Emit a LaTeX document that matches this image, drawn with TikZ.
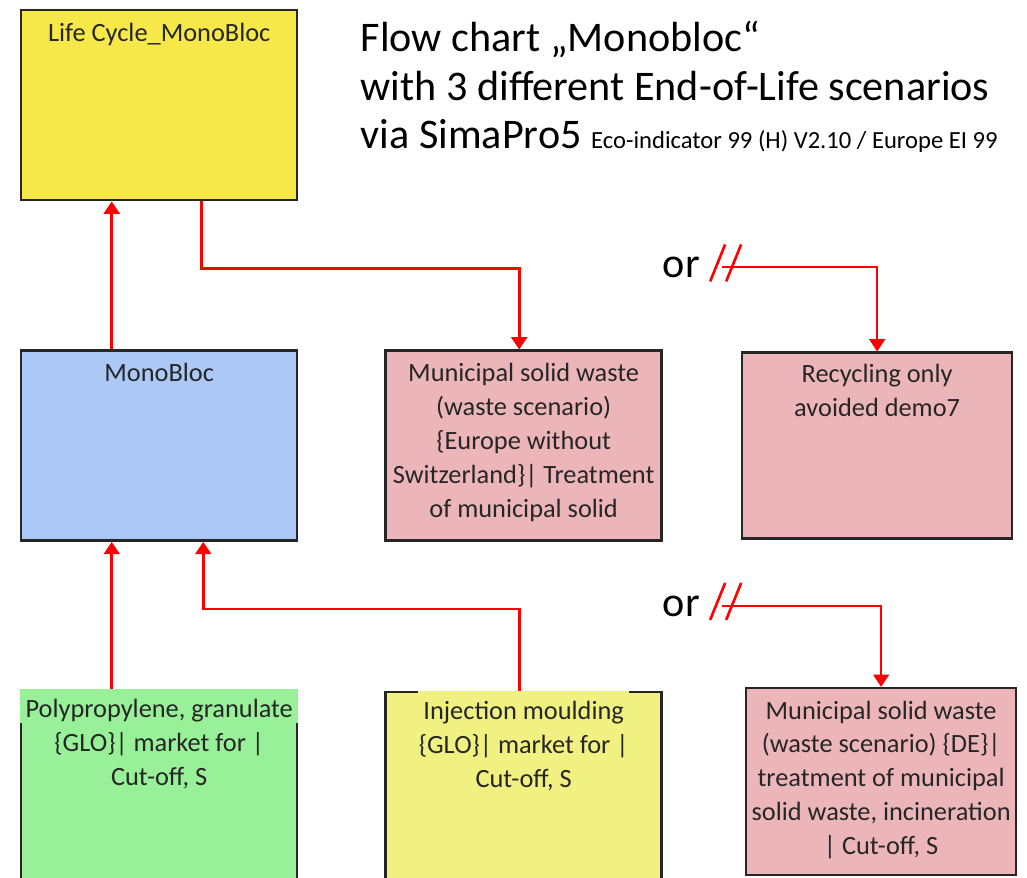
\documentclass[tikz,border=0pt]{standalone}
\usepackage{fontspec}
\setmainfont{Carlito}
\usepackage{tikz}
\usetikzlibrary{arrows.meta, positioning}
\usepackage{xcolor}

\definecolor{lcyellow}{RGB}{246,232,72}
\definecolor{monoblue}{RGB}{171,200,246}
\definecolor{wastepink}{RGB}{236,181,186}
\definecolor{ppgreen}{RGB}{152,240,152}
\definecolor{imyellow}{RGB}{241,241,130}

% highlight behind the first line of a box label
\newcommand{\linefill}[2]{{\setlength{\fboxsep}{0pt}\colorbox{#1}{\hspace{3pt}\vrule height 16pt depth 3.3pt width 0pt #2\hspace{3pt}}}}

\begin{document}
\begin{tikzpicture}[
    box/.style={rectangle, draw=black!85, line width=1.4pt, minimum width=5.52cm, minimum height=3.8cm, inner sep=0pt},
    boxtext/.style={inner sep=0pt, align=center, font=\fontsize{15}{19.3}\selectfont, text=black!85},
    heading/.style={inner sep=0pt, align=left, font=\fontsize{24}{27.5}\selectfont},
    ortext/.style={inner sep=0pt, font=\fontsize{24}{28}\selectfont},
    flow/.style={-{Triangle[width=9pt, length=7pt]}, red, line width=1.6pt},
    altflow/.style={-{Triangle[width=9pt, length=7pt]}, red, line width=1.1pt},
    cut/.style={red, line width=1.5pt},
    node distance=1.5cm
]
    \useasboundingbox (0,0) rectangle (20.54,-17.56);
    \clip (0,0) rectangle (20.54,-17.56);

    % Components
    \node[box, fill=lcyellow, anchor=north west] (lc) at (0.40,-0.18) {};
    \node[box, fill=monoblue, below=2.96cm of lc] (mono) {};
    \node[box, fill=wastepink, right=1.72cm of mono] (munic) {};
    \node[box, fill=wastepink, minimum width=5.4cm, minimum height=3.72cm, right=1.56cm of munic] (recyc) {};
    \node[box, fill=ppgreen, minimum height=4cm, below=2.94cm of mono] (poly) {};
    \node[box, fill=imyellow, minimum height=4cm, below=2.98cm of munic] (inj) {};
    \node[box, fill=wastepink, minimum width=5.4cm, minimum height=3.74cm, below=2.94cm of recyc, xshift=0.08cm] (de) {};

    % Labels
    \node[boxtext, below=0.27cm of lc.north] (lctxt) {Life Cycle\_MonoBloc};
    \node[boxtext, below=0.27cm of mono.north] (monotxt) {MonoBloc};
    \node[boxtext, below=0.27cm of munic.north] (munictxt) {Municipal solid waste\\(waste scenario)\\\{Europe without\\Switzerland\}| Treatment\\of municipal solid};
    \node[boxtext, below=0.24cm of recyc.north] (recyctxt) {Recycling only\\avoided demo7};
    \node[boxtext, below=0cm of poly.north] (polytxt) {\linefill{ppgreen}{Polypropylene, granulate}\\\{GLO\}| market for |\\Cut-off, S};
    \node[boxtext, below=0cm of inj.north] (injtxt) {\linefill{imyellow}{Injection moulding}\\\{GLO\}| market for |\\Cut-off, S};
    \node[boxtext, below=0.27cm of de.north] (detxt) {Municipal solid waste\\(waste scenario) \{DE\}|\\treatment of municipal\\solid waste, incineration\\| Cut-off, S};

    \node[heading, right=1.24cm of lc.north east, anchor=north west, yshift=-0.24cm] (title) {Flow chart „Monobloc“\\with 3 different End-of-Life scenarios\\via SimaPro5 {\fontsize{14}{16}\selectfont Eco-indicator 99 (H) V2.10 / Europe EI 99}};

    % Alternatives
    \coordinate[above left=1.68cm and 3.10cm of recyc.north] (brk1);
    \coordinate[above left=1.62cm and 3.18cm of de.north] (brk2);
    \node[ortext, left=0.44cm of brk1] (or1) {or};
    \node[ortext, left=0.44cm of brk2] (or2) {or};
    \draw[cut] ([shift={(-0.24,-0.28)}]brk1) -- ([shift={(0.06,0.46)}]brk1);
    \draw[cut] ([shift={(0.08,-0.28)}]brk1) -- ([shift={(0.38,0.46)}]brk1);
    \draw[cut] ([shift={(-0.24,-0.28)}]brk2) -- ([shift={(0.06,0.46)}]brk2);
    \draw[cut] ([shift={(0.08,-0.28)}]brk2) -- ([shift={(0.38,0.46)}]brk2);

    % Arrows
    \draw[flow] ([xshift=-0.95cm]mono.north) -- ([xshift=-0.95cm]lc.south);
    \draw[flow] ([xshift=0.84cm]lc.south) -- ++(0,-1.34) -| ([xshift=-0.09cm]munic.north);
    \draw[altflow] (brk1) -| (recyc.north);
    \draw[altflow] (brk2) -| (de.north);
    \draw[flow] ([xshift=-0.95cm]poly.north) -- ([xshift=-0.95cm]mono.south);
    \draw[flow] ([xshift=-0.08cm]inj.north) -- ++(0,1.64) -| ([xshift=0.88cm]mono.south);
\end{tikzpicture}
\end{document}
